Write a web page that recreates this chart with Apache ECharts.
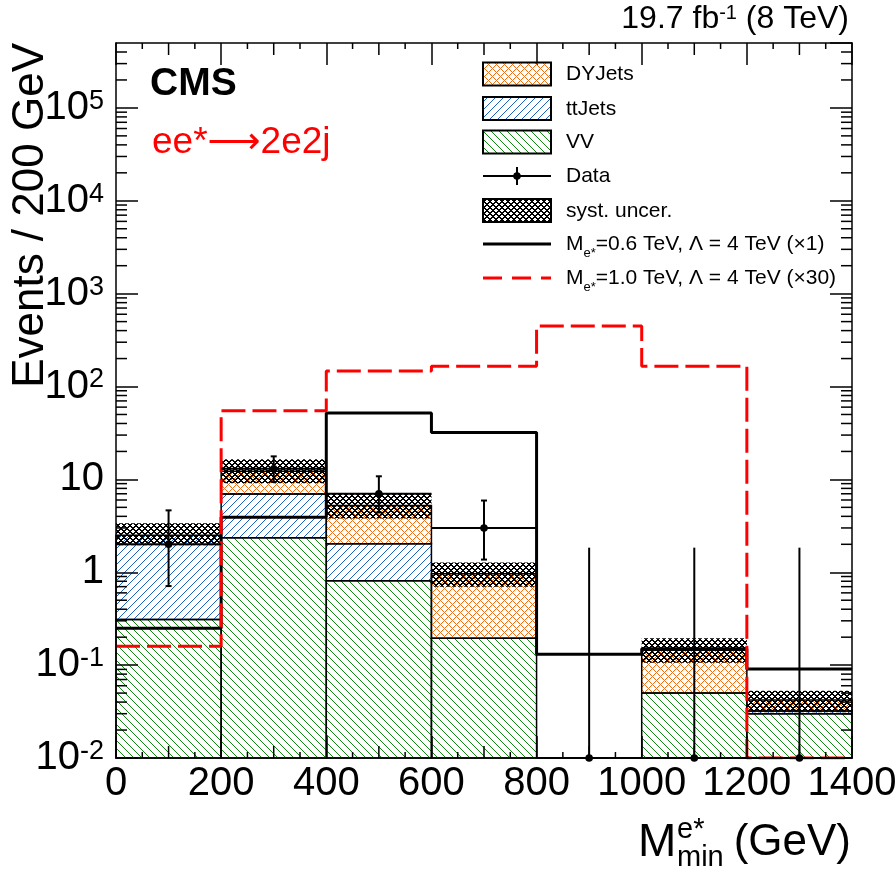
<!DOCTYPE html>
<html>
<head>
<meta charset="utf-8">
<script src="https://cdn.jsdelivr.net/npm/echarts@6/dist/echarts.min.js"></script>
<style>
html, body { margin: 0; padding: 0; background: #fff; }
#main { width: 896px; height: 872px; }
</style>
</head>
<body>
<div id="main"></div>
<script>
// binning of M_min(e*) in GeV
var binEdges = [0, 200, 400, 600, 800, 1000, 1200, 1400];
// background stack, events per bin
var vvYield = [0.31, 2.36, 0.81, 0.195, 0, 0.05, 0.03];
var ttYield = [2.2, 4.6, 1.22, 0, 0, 0, 0.002];
var dyYield = [0, 5.3, 3.2, 0.77, 0, 0.095, 0.01];
// systematic band (low / high edge)
var systLow = [1.95, 9.1, 3.8, 0.70, 0, 0.106, 0.031];
var systHigh = [3.37, 16.5, 7.1, 1.27, 0, 0.195, 0.053];
// observed data with poisson errors
var dataCounts = [2, 13, 7, 3, 0, 0, 0];
var dataErrLow = [1.29, 3.6, 2.6, 1.63, 0, 0, 0];
var dataErrHigh = [2.64, 4.7, 3.8, 2.92, 1.84, 1.84, 1.84];
// signal hypotheses
var sig06 = [0.25, 3.9, 52, 32, 0.131, 0.15, 0.091];
var sig10 = [0.16, 55, 147, 165, 449, 165, 0];
// axis settings
var xTicks = [0, 200, 400, 600, 800, 1000, 1200, 1400];
var yMin = 0.01, yMax = 5e5;

var FONT = 'Liberation Sans, Arial, Helvetica, sans-serif';

// hatch fills, built pixel by pixel so the lines stay sharp
function makePattern(color, period, test) {
  var c = document.createElement('canvas');
  c.width = period; c.height = period;
  var ctx = c.getContext('2d');
  ctx.fillStyle = color;
  for (var x = 0; x < period; x++) {
    for (var y = 0; y < period; y++) {
      var d1 = ((x - y) % period + period) % period;
      var d2 = (x + y) % period;
      if (test(d1, d2)) ctx.fillRect(x, y, 1, 1);
    }
  }
  return { image: c, repeat: 'repeat' };
}
var dyFill = makePattern('#ff6a00', 8, function (a, b) { return a === 0 || b === 0; });
var ttFill = makePattern('#1a62c8', 8, function (a, b) { return b === 0; });
var vvFill = makePattern('#118a11', 8, function (a, b) { return a === 0; });
var systFill = makePattern('#000000', 6, function (a, b) { return a <= 1 || b <= 1; });

var cumVV = vvYield.slice();
var cumTT = vvYield.map(function (v, i) { return v + ttYield[i]; });
var cumDY = cumTT.map(function (v, i) { return v + dyYield[i]; });
var zeros = vvYield.map(function () { return 0; });

function binBoxes(name, lowArr, highArr, fill, stroke) {
  return {
    name: name,
    type: 'custom',
    renderItem: function (params, api) {
      var lo = Math.max(api.value(2), yMin), hi = api.value(3);
      if (!(hi > lo)) return;
      var p0 = api.coord([api.value(0), hi]);
      var p1 = api.coord([api.value(1), lo]);
      return {
        type: 'rect',
        shape: { x: p0[0], y: p0[1], width: p1[0] - p0[0], height: p1[1] - p0[1] },
        style: { fill: fill, stroke: stroke ? '#000' : null, lineWidth: stroke ? 1.5 : 0 }
      };
    },
    encode: { x: [0, 1], y: [2, 3] },
    data: lowArr.map(function (v, i) { return [binEdges[i], binEdges[i + 1], v, highArr[i]]; })
  };
}

function stepLine(name, vals, color, dash) {
  var pts = vals.map(function (v, i) { return [binEdges[i], Math.max(v, yMin)]; });
  pts.push([binEdges[binEdges.length - 1], Math.max(vals[vals.length - 1], yMin)]);
  return {
    name: name, type: 'line', step: 'end', symbol: 'none', data: pts,
    lineStyle: { color: color, width: 3, type: dash ? [24, 7] : 'solid' },
    z: 4
  };
}

var dataSeries = {
  name: 'Data', type: 'custom', z: 5,
  renderItem: function (params, api) {
    var i = params.dataIndex;
    var v = api.value(2);
    var lo = Math.max(v - dataErrLow[i], yMin), hi = v + dataErrHigh[i];
    var xm = (api.value(0) + api.value(1)) / 2;
    var pc = api.coord([xm, Math.max(v, yMin)]);
    var pl = api.coord([api.value(0), Math.max(v, yMin)]);
    var pr = api.coord([api.value(1), Math.max(v, yMin)]);
    var pt = api.coord([xm, hi]);
    var pb = api.coord([xm, lo]);
    var ls = { stroke: '#000', lineWidth: 2 };
    var kids = [
      { type: 'line', shape: { x1: pt[0], y1: pt[1], x2: pb[0], y2: pb[1] }, style: ls },
      { type: 'line', shape: { x1: pl[0], y1: pl[1], x2: pr[0], y2: pr[1] }, style: ls },
      { type: 'circle', shape: { cx: pc[0], cy: pc[1], r: 3.8 }, style: { fill: '#000' } }
    ];
    if (v > 0) {
      kids.push({ type: 'line', shape: { x1: pt[0] - 3, y1: pt[1], x2: pt[0] + 3, y2: pt[1] }, style: ls });
      kids.push({ type: 'line', shape: { x1: pb[0] - 3, y1: pb[1], x2: pb[0] + 3, y2: pb[1] }, style: ls });
    }
    return { type: 'group', children: kids };
  },
  encode: { x: [0, 1], y: 2 },
  data: dataCounts.map(function (v, i) { return [binEdges[i], binEdges[i + 1], v]; })
};

// ROOT-style minor ticks (2..9 x 10^n on the log axis, 50/100 GeV on x)
var yMinorTicks = [];
for (var n = -2; n <= 5; n++) {
  for (var k = 2; k <= 9; k++) {
    var t = k * Math.pow(10, n);
    if (t < yMax) yMinorTicks.push([0, t]);
  }
}
var xMinorTicks = [];
for (var xv = 50; xv < 1400; xv += 50) {
  if (xv % 200 !== 0) xMinorTicks.push([xv, yMin]);
}
var tickStyle = { stroke: '#000', lineWidth: 1.5 };
var yMinorSeries = {
  type: 'custom', z: 20, silent: true,
  renderItem: function (params, api) {
    var p = api.coord([binEdges[0], api.value(1)]);
    var r = api.coord([binEdges[binEdges.length - 1], api.value(1)]);
    return { type: 'group', children: [
      { type: 'line', shape: { x1: p[0], y1: p[1], x2: p[0] + 11, y2: p[1] }, style: tickStyle },
      { type: 'line', shape: { x1: r[0] - 11, y1: r[1], x2: r[0], y2: r[1] }, style: tickStyle }
    ] };
  },
  data: yMinorTicks
};
var xMinorSeries = {
  type: 'custom', z: 20, silent: true,
  renderItem: function (params, api) {
    var x = api.value(0);
    var len = x % 100 === 0 ? 12 : 6;
    var b = api.coord([x, yMin]);
    var t = api.coord([x, yMax]);
    return { type: 'group', children: [
      { type: 'line', shape: { x1: b[0], y1: b[1], x2: b[0], y2: b[1] - len }, style: tickStyle },
      { type: 'line', shape: { x1: t[0], y1: t[1], x2: t[0], y2: t[1] + len }, style: tickStyle }
    ] };
  },
  data: xMinorTicks
};

function yLabel(v) {
  var e = Math.log10(v), r = Math.round(e);
  if (Math.abs(e - r) > 1e-6) return '';
  if (r === 0) return '{b|1}';
  if (r === 1) return '{b|10}';
  return '{b|10}{sup|' + r + '}';
}

var axisLine = { show: true, onZero: false, lineStyle: { color: '#000', width: 1.5 } };
var axisTick = { show: true, inside: true, length: 22, lineStyle: { color: '#000', width: 1.5 } };
var yLabelRich = {
  b: { fontSize: 40, fontFamily: FONT, color: '#000', lineHeight: 40, verticalAlign: 'top' },
  sup: { fontSize: 27, fontFamily: FONT, color: '#000', lineHeight: 27, verticalAlign: 'top' }
};

// legend drawn ROOT-like
var legX = 483, legW = 68, legH = 23, legTextX = 566;
var legRows = [74, 108.5, 142, 176, 210.5, 244, 278];
var legFont = 21;
var legRich = {
  n: { fontSize: legFont, fontFamily: FONT, color: '#000', lineHeight: 24, verticalAlign: 'top' },
  s: { fontSize: 13, fontFamily: FONT, color: '#000', lineHeight: 13, padding: [13, 0, 0, 0], verticalAlign: 'top' }
};
function legText(y, txt) {
  return { type: 'text', x: legTextX, y: y + 2, z: 30,
    style: { text: txt, rich: legRich, fill: '#000', fontSize: legFont, fontFamily: FONT,
      align: 'left', verticalAlign: 'middle', textAlign: 'left', textVerticalAlign: 'middle' } };
}
function legBox(y, fill) {
  return { type: 'rect', z: 30, shape: { x: legX, y: y - legH / 2, width: legW, height: legH },
    style: { fill: fill, stroke: '#000', lineWidth: 2 } };
}
var legendGraphics = [
  legBox(legRows[0], dyFill), legText(legRows[0], '{n|DYJets}'),
  legBox(legRows[1], ttFill), legText(legRows[1], '{n|ttJets}'),
  legBox(legRows[2], vvFill), legText(legRows[2], '{n|VV}'),
  { type: 'line', z: 30, shape: { x1: legX, y1: legRows[3], x2: legX + legW, y2: legRows[3] }, style: { stroke: '#000', lineWidth: 2 } },
  { type: 'line', z: 30, shape: { x1: legX + legW / 2, y1: legRows[3] - 9, x2: legX + legW / 2, y2: legRows[3] + 9 }, style: { stroke: '#000', lineWidth: 2 } },
  { type: 'circle', z: 30, shape: { cx: legX + legW / 2, cy: legRows[3], r: 3.8 }, style: { fill: '#000' } },
  legText(legRows[3], '{n|Data}'),
  legBox(legRows[4], systFill), legText(legRows[4], '{n|syst. uncer.}'),
  { type: 'line', z: 30, shape: { x1: legX, y1: legRows[5], x2: legX + legW, y2: legRows[5] }, style: { stroke: '#000', lineWidth: 3 } },
  legText(legRows[5], '{n|M}{s|e*}{n|=0.6 TeV, Λ = 4 TeV (×1)}'),
  { type: 'line', z: 30, shape: { x1: legX, y1: legRows[6], x2: legX + legW, y2: legRows[6] }, style: { stroke: '#ff0000', lineWidth: 3, lineDash: [19, 10] } },
  legText(legRows[6], '{n|M}{s|e*}{n|=1.0 TeV, Λ = 4 TeV (×30)}')
];

var textGraphics = [
  { type: 'text', x: 849, y: 20, z: 30,
    style: { text: '{n|19.7 fb}{sup|-1}{n| (8 TeV)}', fill: '#000', align: 'right', verticalAlign: 'middle', textAlign: 'right', textVerticalAlign: 'middle',
      rich: { n: { fontSize: 32, fontFamily: FONT, color: '#000', lineHeight: 33, verticalAlign: 'top' },
              sup: { fontSize: 20, fontFamily: FONT, color: '#000', lineHeight: 20, verticalAlign: 'top' } } } },
  { type: 'text', x: 150, y: 84, z: 30,
    style: { text: 'CMS', fill: '#000', fontSize: 39, fontWeight: 'bold', fontFamily: FONT, align: 'left', verticalAlign: 'middle', textAlign: 'left', textVerticalAlign: 'middle' } },
  { type: 'text', x: 152, y: 143, z: 30,
    style: { text: '{r|ee*}{a|⟶}{r|2e2j}', fill: '#ff0000', align: 'left', verticalAlign: 'middle', textAlign: 'left', textVerticalAlign: 'middle',
      rich: { r: { fontSize: 37, fontFamily: FONT, color: '#ff0000', lineHeight: 40 },
              a: { fontSize: 37, fontFamily: 'DejaVu Sans', color: '#ff0000', lineHeight: 40 } } } },
  { type: 'text', x: 31, y: 43, rotation: Math.PI / 2, z: 30,
    style: { text: 'Events / 200 GeV', fill: '#000', fontSize: 44, fontFamily: FONT, align: 'right', verticalAlign: 'middle', textAlign: 'right', textVerticalAlign: 'middle' } },
  { type: 'text', x: 638, y: 843, z: 30,
    style: { text: 'M', fill: '#000', fontSize: 46, fontFamily: FONT, align: 'left', verticalAlign: 'middle', textAlign: 'left', textVerticalAlign: 'middle' } },
  { type: 'text', x: 677, y: 830, z: 30,
    style: { text: 'e*', fill: '#000', fontSize: 29, fontFamily: FONT, align: 'left', verticalAlign: 'middle', textAlign: 'left', textVerticalAlign: 'middle' } },
  { type: 'text', x: 677, y: 858, z: 30,
    style: { text: 'min', fill: '#000', fontSize: 29, fontFamily: FONT, align: 'left', verticalAlign: 'middle', textAlign: 'left', textVerticalAlign: 'middle' } },
  { type: 'text', x: 851, y: 843, z: 30,
    style: { text: '(GeV)', fill: '#000', fontSize: 44, fontFamily: FONT, align: 'right', verticalAlign: 'middle', textAlign: 'right', textVerticalAlign: 'middle' } }
];

var chart = echarts.init(document.getElementById('main'), null, { renderer: 'canvas' });
var option = {
  backgroundColor: '#fff',
  animation: false,
  grid: { left: 116, right: 44, top: 43, bottom: 114, containLabel: false, outerBoundsMode: 'none' },
  xAxis: [
    { type: 'value', min: xTicks[0], max: xTicks[xTicks.length - 1], interval: 200, position: 'bottom', z: 20,
      axisLine: axisLine, axisTick: axisTick, splitLine: { show: false },
      axisLabel: { fontSize: 40, fontFamily: FONT, color: '#000', margin: 6, formatter: function (v) { return String(v); } } },
    { type: 'value', min: xTicks[0], max: xTicks[xTicks.length - 1], interval: 200, position: 'top', z: 20,
      axisLine: axisLine, axisTick: axisTick, splitLine: { show: false }, axisLabel: { show: false } }
  ],
  yAxis: [
    { type: 'log', logBase: 10, min: yMin, max: yMax, interval: 1, position: 'left', z: 20,
      axisLine: axisLine, axisTick: axisTick, splitLine: { show: false },
      axisLabel: { formatter: yLabel, rich: yLabelRich, margin: 12, showMaxLabel: false } },
    { type: 'log', logBase: 10, min: yMin, max: yMax, interval: 1, position: 'right', z: 20,
      axisLine: axisLine, axisTick: axisTick, splitLine: { show: false }, axisLabel: { show: false } }
  ],
  series: [
    binBoxes('VV', zeros, cumVV, vvFill, true),
    binBoxes('ttJets', cumVV, cumTT, ttFill, true),
    binBoxes('DYJets', cumTT, cumDY, dyFill, true),
    binBoxes('syst. uncer.', systLow, systHigh, systFill, false),
    stepLine('M0.6', sig06, '#000', false),
    stepLine('M1.0', sig10, '#ff0000', true),
    dataSeries,
    yMinorSeries,
    xMinorSeries
  ],
  graphic: legendGraphics.concat(textGraphics)
};
chart.setOption(option);
</script>
</body>
</html>
